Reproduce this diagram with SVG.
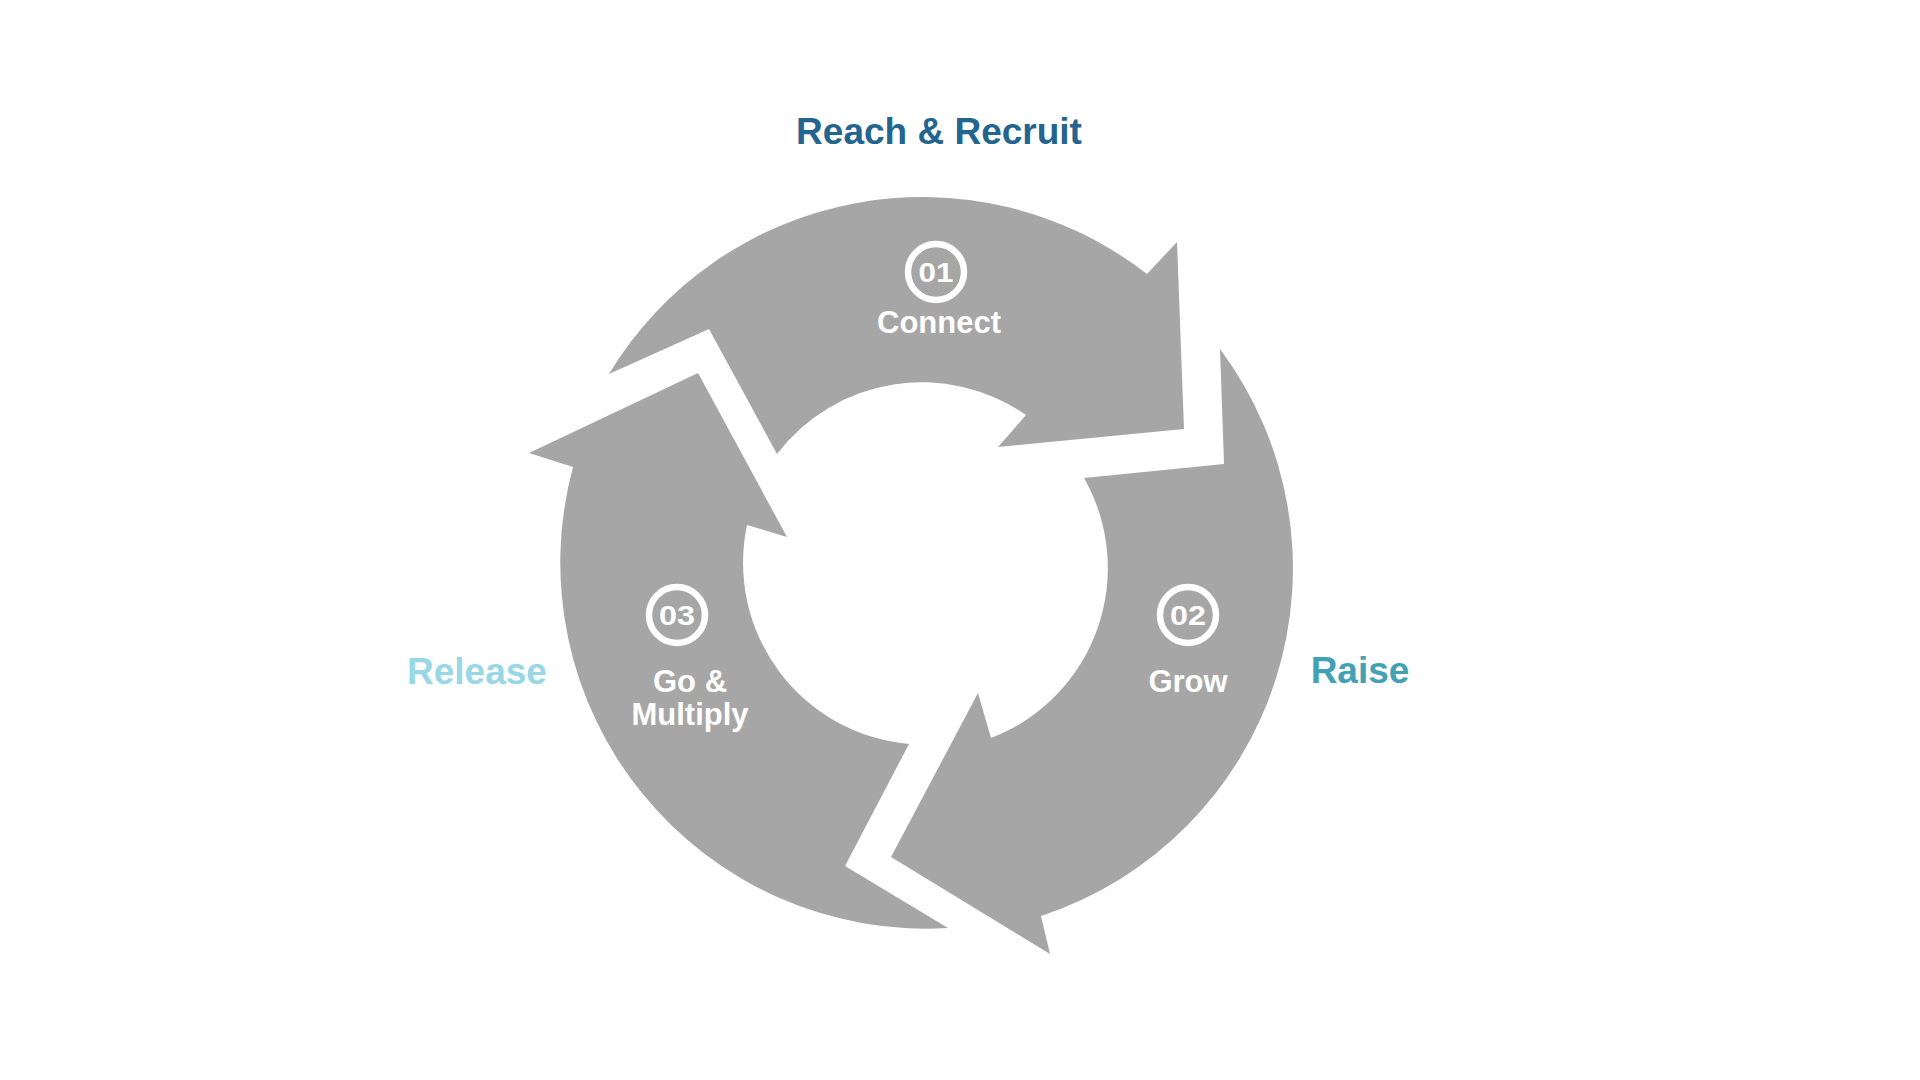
<svg xmlns="http://www.w3.org/2000/svg" width="1920" height="1080" viewBox="0 0 1920 1080">
  <style>
    .arrow { fill: #A6A6A6; stroke: none; }
    .ring { fill: none; stroke: #FFFFFF; stroke-width: 6.5; }
    .num { font-family: "Liberation Sans", Arial, sans-serif; font-weight: 700; font-size: 27px; fill: #FFFFFF; text-anchor: middle; }
    .lbl { font-family: "Liberation Sans", Arial, sans-serif; font-weight: 700; font-size: 31px; fill: #FFFFFF; text-anchor: middle; }
    .phase { font-family: "Liberation Sans", Arial, sans-serif; font-weight: 700; font-size: 37px; text-anchor: middle; }
  </style>
  <rect width="1920" height="1080" fill="#FFFFFF"/>

  <g id="node-connect">
    <path class="arrow" d="M 609,374 A 366 366 0 0 1 1147,274 L 1177,242 L 1184,429 L 998,447 L 1026,415 A 182 182 0 0 0 777,454 L 709,329 Z"/>
    <circle class="ring" cx="936" cy="272" r="28"/>
    <text class="num" x="936" y="281.5" textLength="35" lengthAdjust="spacingAndGlyphs">01</text>
    <text class="lbl" x="939" y="333">Connect</text>
  </g>

  <g id="node-grow">
    <path class="arrow" d="M 1220,349 A 366 366 0 0 1 1041,916 L 1050,954 L 891,857 L 978,693 L 991,738 A 182 182 0 0 0 1084,478 L 1224,464 Z"/>
    <circle class="ring" cx="1188" cy="615" r="28"/>
    <text class="num" x="1188" y="624.5" textLength="36" lengthAdjust="spacingAndGlyphs">02</text>
    <text class="lbl" x="1188" y="692">Grow</text>
  </g>

  <g id="node-multiply">
    <path class="arrow" d="M 948,928 A 366 366 0 0 1 573,467 L 529,453 L 698,373 L 787,537 L 747,525 A 182 182 0 0 0 909,744 L 845,866 Z"/>
    <circle class="ring" cx="677" cy="615" r="28"/>
    <text class="num" x="677" y="624.5" textLength="36" lengthAdjust="spacingAndGlyphs">03</text>
    <text class="lbl" x="690" y="692">Go &amp;</text>
    <text class="lbl" x="690" y="725">Multiply</text>
  </g>

  <g id="node-reach">
    <text class="phase" x="939" y="144" fill="#23658E">Reach &amp; Recruit</text>
  </g>
  <g id="node-raise">
    <text class="phase" x="1360" y="683" fill="#42A1B5">Raise</text>
  </g>
  <g id="node-release">
    <text class="phase" x="477" y="684" fill="#98D8E6">Release</text>
  </g>

  <g id="connectors"/>
</svg>
